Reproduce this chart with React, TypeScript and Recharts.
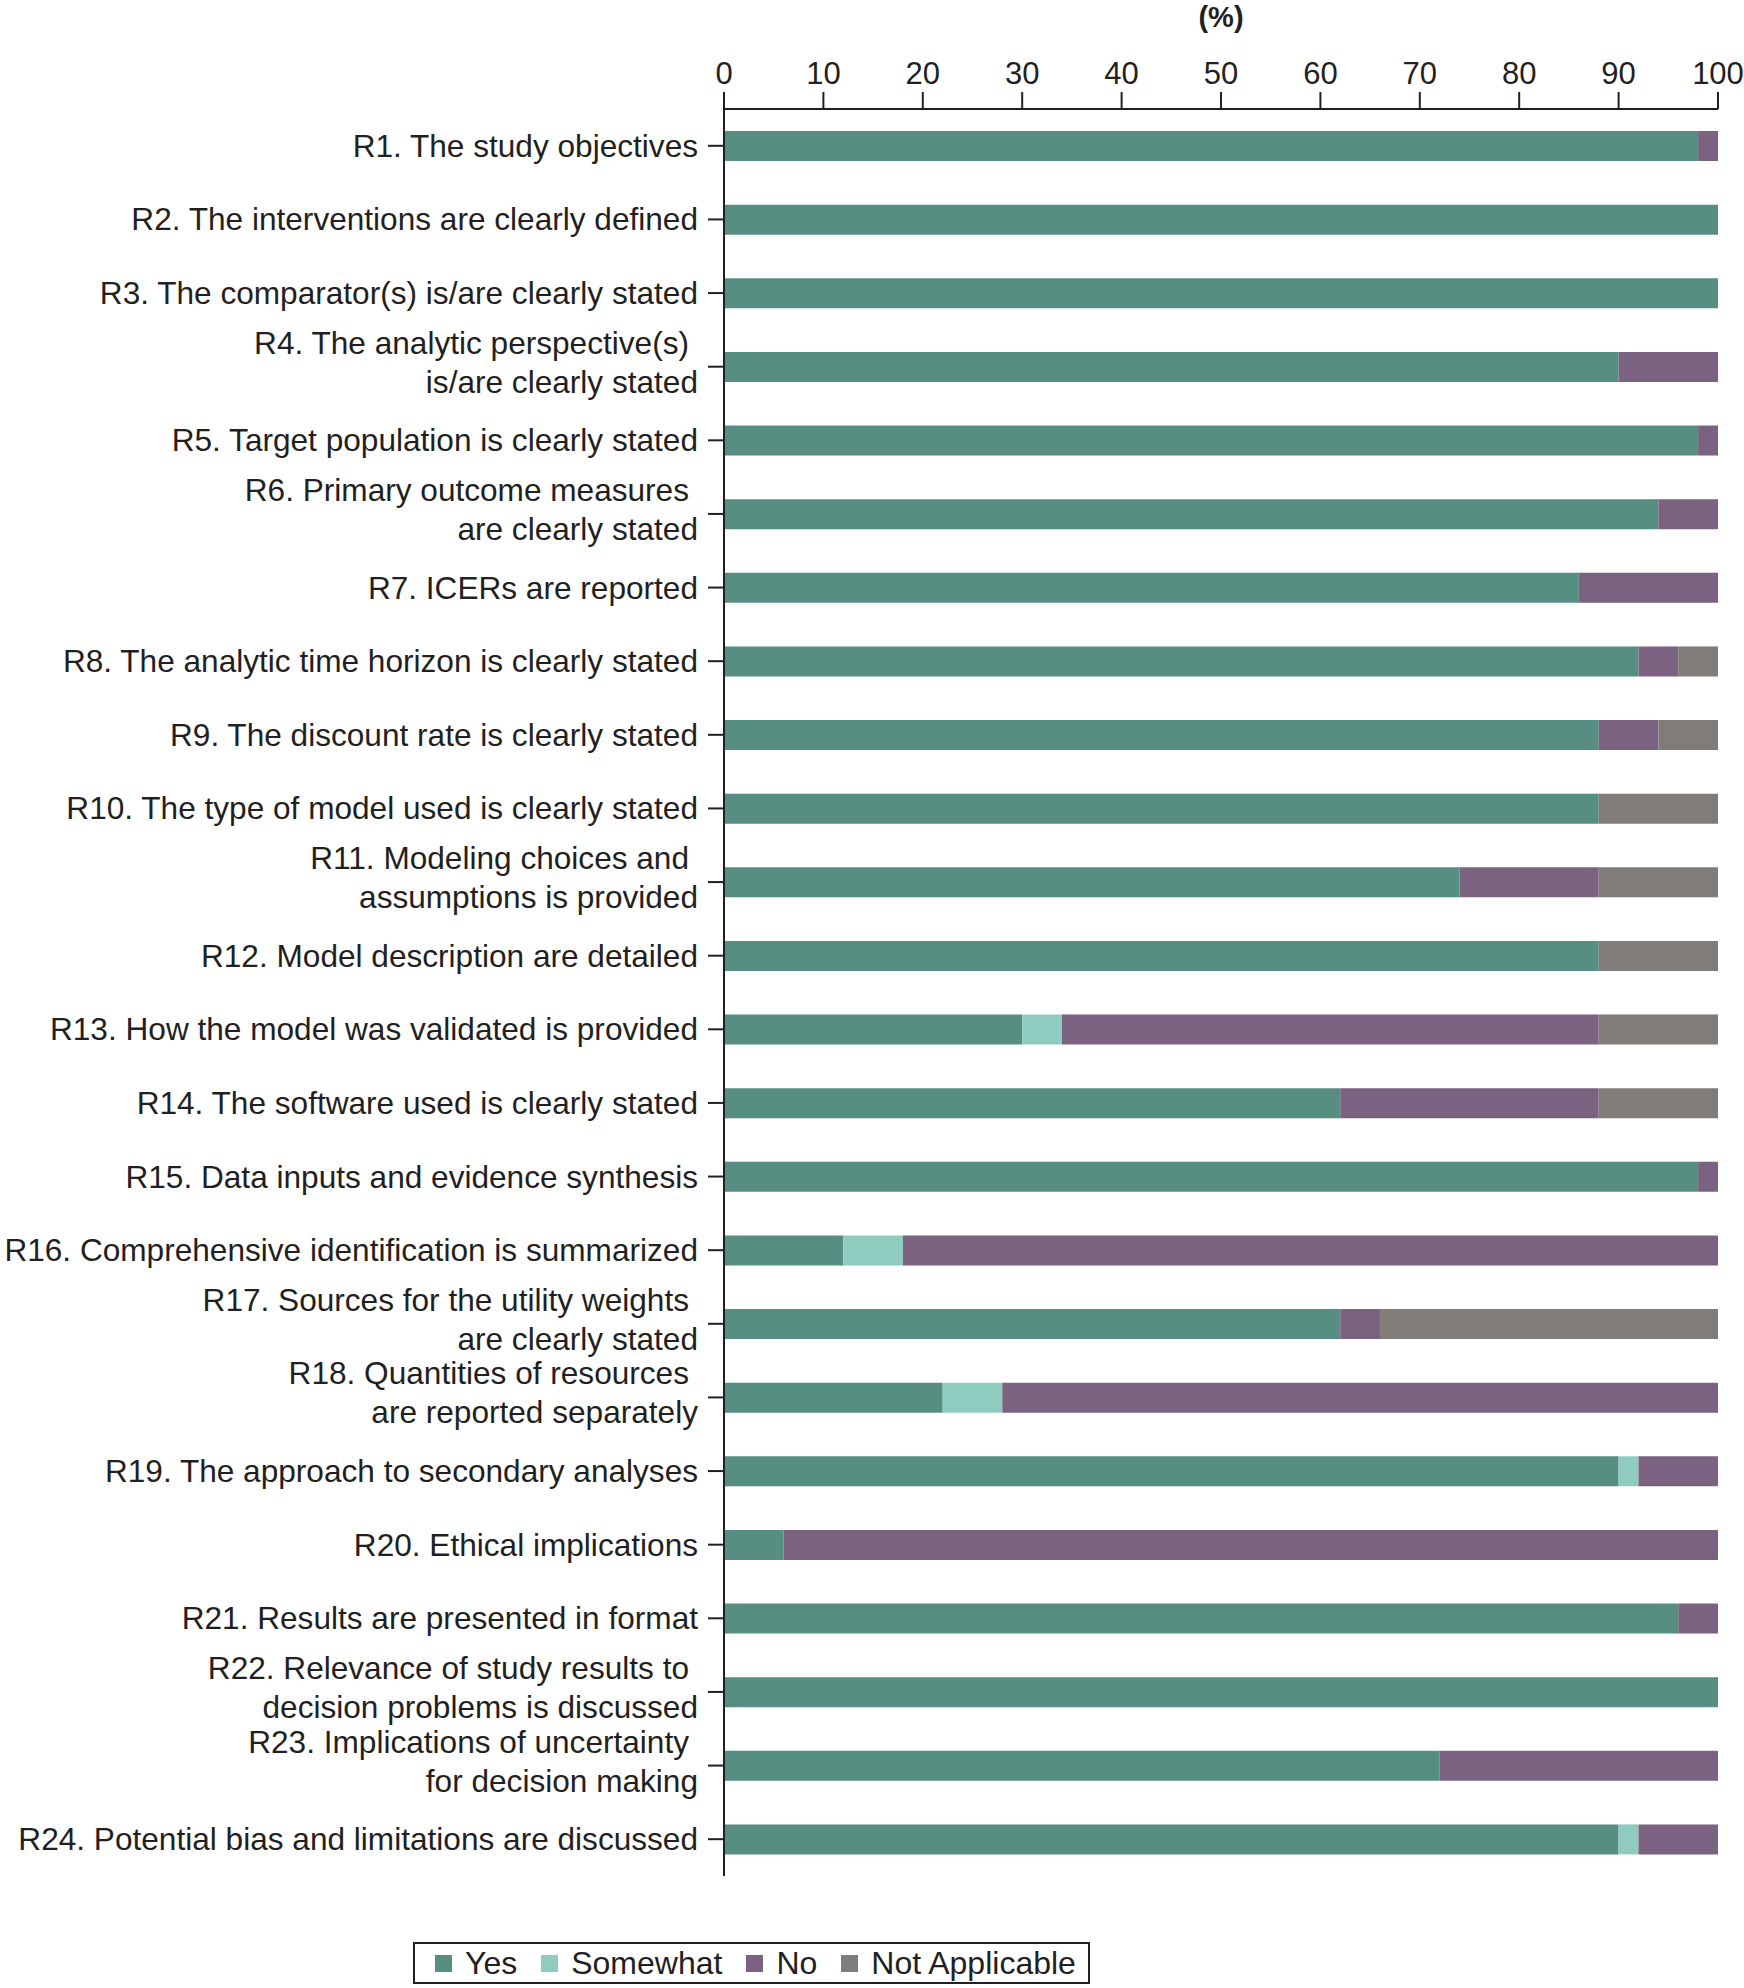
import { BarChart, Bar, XAxis, YAxis, Legend } from "recharts";

const categories = [
  "R1. The study objectives",
  "R2. The interventions are clearly defined",
  "R3. The comparator(s) is/are clearly stated",
  "R4. The analytic perspective(s)\nis/are clearly stated",
  "R5. Target population is clearly stated",
  "R6. Primary outcome measures\nare clearly stated",
  "R7. ICERs are reported",
  "R8. The analytic time horizon is clearly stated",
  "R9. The discount rate is clearly stated",
  "R10. The type of model used is clearly stated",
  "R11. Modeling choices and\nassumptions is provided",
  "R12. Model description are detailed",
  "R13. How the model was validated is provided",
  "R14. The software used is clearly stated",
  "R15. Data inputs and evidence synthesis",
  "R16. Comprehensive identification is summarized",
  "R17. Sources for the utility weights\nare clearly stated",
  "R18. Quantities of resources\nare reported separately",
  "R19. The approach to secondary analyses",
  "R20. Ethical implications",
  "R21. Results are presented in format",
  "R22. Relevance of study results to\ndecision problems is discussed",
  "R23. Implications of uncertainty\nfor decision making",
  "R24. Potential bias and limitations are discussed",
];

const yes = [98, 100, 100, 90, 98, 94, 86, 92, 88, 88, 74, 88, 30, 62, 98, 12, 62, 22, 90, 6, 96, 100, 72, 90];
const somewhat = [0, 0, 0, 0, 0, 0, 0, 0, 0, 0, 0, 0, 4, 0, 0, 6, 0, 6, 2, 0, 0, 0, 0, 2];
const no = [2, 0, 0, 10, 2, 6, 14, 4, 6, 0, 14, 0, 54, 26, 2, 82, 4, 72, 8, 94, 4, 0, 28, 8];
const notApplicable = [0, 0, 0, 0, 0, 0, 0, 4, 6, 12, 12, 12, 12, 12, 0, 0, 34, 0, 0, 0, 0, 0, 0, 0];

const xTicks = [0, 10, 20, 30, 40, 50, 60, 70, 80, 90, 100];

const series = [
  { key: "yes", name: "Yes", color: "#568e82" },
  { key: "somewhat", name: "Somewhat", color: "#8fccbf" },
  { key: "no", name: "No", color: "#7a6280" },
  { key: "na", name: "Not Applicable", color: "#807c79" },
];

const data = categories.map((label, i) => ({
  label,
  yes: yes[i],
  somewhat: somewhat[i],
  no: no[i],
  na: notApplicable[i],
}));

const FONT = "'Liberation Sans', Arial, sans-serif";
const INK = "#231f20";
const LABEL_SIZE = 31.6;

function CategoryTick({ x, y, payload }: any) {
  const lines = String(payload.value).split("\n");
  if (lines.length === 1) {
    return (
      <text x={x} y={y} dy={11} textAnchor="end" fontSize={LABEL_SIZE} fontFamily={FONT} fill={INK}>
        {lines[0]}
      </text>
    );
  }
  return (
    <g>
      <text x={x - 9} y={y} dy={-13} textAnchor="end" fontSize={LABEL_SIZE} fontFamily={FONT} fill={INK}>
        {lines[0]}
      </text>
      <text x={x} y={y} dy={26} textAnchor="end" fontSize={LABEL_SIZE} fontFamily={FONT} fill={INK}>
        {lines[1]}
      </text>
    </g>
  );
}

function LegendBox() {
  return (
    <div
      style={{
        display: "flex",
        alignItems: "center",
        border: `2px solid ${INK}`,
        height: 42,
        width: 677,
        paddingLeft: 20,
        boxSizing: "border-box",
        fontFamily: FONT,
        fontSize: 32,
        color: INK,
        whiteSpace: "nowrap",
      }}
    >
      {series.map((s) => (
        <div key={s.key} style={{ display: "flex", alignItems: "center", marginRight: 24 }}>
          <span style={{ width: 17, height: 17, background: s.color, display: "inline-block", marginRight: 13 }} />
          <span>{s.name}</span>
        </div>
      ))}
    </div>
  );
}

export default function App() {
  return (
    <div style={{ position: "absolute", left: 0, top: 0, background: "#fff" }}>
      <BarChart
        width={1744}
        height={1988}
        data={data}
        layout="vertical"
        margin={{ top: 0, right: 26, bottom: 112, left: 0 }}
        style={{ fontFamily: FONT }}
      >
        <XAxis
          type="number"
          orientation="top"
          domain={[0, 100]}
          ticks={xTicks}
          height={109}
          tickSize={17}
          tickMargin={8}
          axisLine={{ stroke: INK, strokeWidth: 2 }}
          tickLine={{ stroke: INK, strokeWidth: 2 }}
          tick={{ fontSize: 31, fill: INK, fontFamily: FONT }}
          label={{
            content: (props: any) => {
              const vb = props.viewBox;
              return (
                <text
                  x={vb.x + vb.width / 2}
                  y={27}
                  textAnchor="middle"
                  fontSize={29}
                  fontWeight="bold"
                  fontFamily={FONT}
                  fill={INK}
                >
                  (%)
                </text>
              );
            },
          }}
        />
        <YAxis
          type="category"
          dataKey="label"
          width={724}
          interval={0}
          tickSize={16}
          tickMargin={10}
          axisLine={{ stroke: INK, strokeWidth: 2 }}
          tickLine={{ stroke: INK, strokeWidth: 2 }}
          tick={<CategoryTick />}
        />
        <Legend
          layout="horizontal"
          verticalAlign="middle"
          align="center"
          wrapperStyle={{ position: "absolute", left: 413, top: 1942, width: 677, height: 42 }}
          content={() => <LegendBox />}
        />
        {series.map((s) => (
          <Bar
            key={s.key}
            dataKey={s.key}
            name={s.name}
            stackId="a"
            fill={s.color}
            barSize={30}
            isAnimationActive={false}
          />
        ))}
      </BarChart>
    </div>
  );
}
